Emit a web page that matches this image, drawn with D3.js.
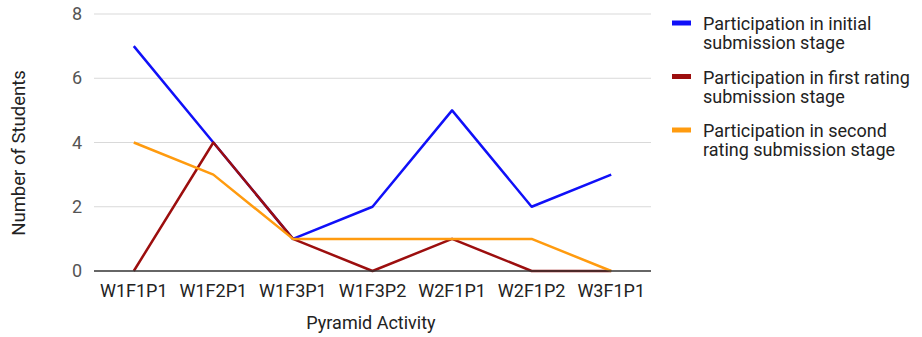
<!DOCTYPE html>
<html>
<head>
<meta charset="utf-8">
<script src="https://cdn.jsdelivr.net/npm/d3@7"></script>
<style>
body { margin: 0; background: #fff; }
text { font-family: Roboto, "Noto Sans", sans-serif; }
</style>
</head>
<body>
<svg id="chart" width="922" height="337"></svg>
<script>
const categories = ["W1F1P1", "W1F2P1", "W1F3P1", "W1F3P2", "W2F1P1", "W2F1P2", "W3F1P1"];
const initialStage = [7, 4, 1, 2, 5, 2, 3];
const firstRating = [0, 4, 1, 0, 1, 0, 0];
const secondRating = [4, 3, 1, 1, 1, 1, 0];
const yTicks = [0, 2, 4, 6, 8];

const series = [
    { name: ["Participation in initial", "submission stage"], values: initialStage, color: "#1010f8" },
    { name: ["Participation in first rating", "submission stage"], values: firstRating, color: "#9c0e0e" },
    { name: ["Participation in second", "rating submission stage"], values: secondRating, color: "#ff9b0f" }
];

const margin = { left: 94, right: 271, top: 14, bottom: 66 };
const width = 922, height = 337;
const svg = d3.select("#chart");

const x = d3.scaleBand().domain(categories).range([margin.left, width - margin.right]);
const y = d3.scaleLinear().domain([0, 8]).range([height - margin.bottom, margin.top]);

// gridlines
svg.append("g")
    .selectAll("line")
    .data(yTicks.filter(d => d > 0))
    .enter().append("line")
    .attr("x1", margin.left).attr("x2", width - margin.right)
    .attr("y1", d => y(d)).attr("y2", d => y(d))
    .attr("stroke", "#d9d9d9").attr("stroke-width", 1);

// y tick labels
svg.append("g")
    .selectAll("text")
    .data(yTicks)
    .enter().append("text")
    .attr("x", 82).attr("y", d => y(d) + 6)
    .attr("text-anchor", "end")
    .attr("font-size", 18)
    .attr("fill", "#555")
    .text(d => d);

// x labels
svg.append("g")
    .selectAll("text")
    .data(categories)
    .enter().append("text")
    .attr("x", d => x(d) + x.bandwidth() / 2)
    .attr("y", 297)
    .attr("text-anchor", "middle")
    .attr("font-size", 18)
    .attr("fill", "#222")
    .text(d => d);

// lines
const line = d3.line()
    .x((d, i) => x(categories[i]) + x.bandwidth() / 2)
    .y(d => y(d));

series.forEach(s => {
    svg.append("path")
        .datum(s.values)
        .attr("d", line)
        .attr("fill", "none")
        .attr("stroke", s.color)
        .attr("stroke-width", 2.5)
        .attr("stroke-linejoin", "round");
});

// baseline
svg.append("line")
    .attr("x1", margin.left).attr("x2", width - margin.right)
    .attr("y1", y(0)).attr("y2", y(0))
    .attr("stroke", "#333").attr("stroke-width", 1.5);

// axis titles
svg.append("text")
    .attr("x", 371)
    .attr("y", 329)
    .attr("text-anchor", "middle")
    .attr("font-size", 18)
    .attr("fill", "#222")
    .text("Pyramid Activity");

svg.append("text")
    .attr("transform", "translate(25,153) rotate(-90)")
    .attr("text-anchor", "middle")
    .attr("font-size", 18.5)
    .attr("fill", "#222")
    .text("Number of Students");

// legend
const legend = svg.append("g")
    .selectAll("g")
    .data(series)
    .enter().append("g")
    .attr("transform", (d, i) => "translate(672," + (23 + i * 53.5) + ")");

legend.append("line")
    .attr("x1", 0).attr("x2", 19)
    .attr("y1", 0).attr("y2", 0)
    .attr("stroke", d => d.color)
    .attr("stroke-width", 5);

legend.append("text")
    .attr("x", 31)
    .attr("y", 7)
    .attr("font-size", 18)
    .attr("fill", "#222")
    .selectAll("tspan")
    .data(d => d.name)
    .enter().append("tspan")
    .attr("x", 31)
    .attr("dy", (d, i) => i === 0 ? 0 : 19)
    .text(d => d);
</script>
</body>
</html>
